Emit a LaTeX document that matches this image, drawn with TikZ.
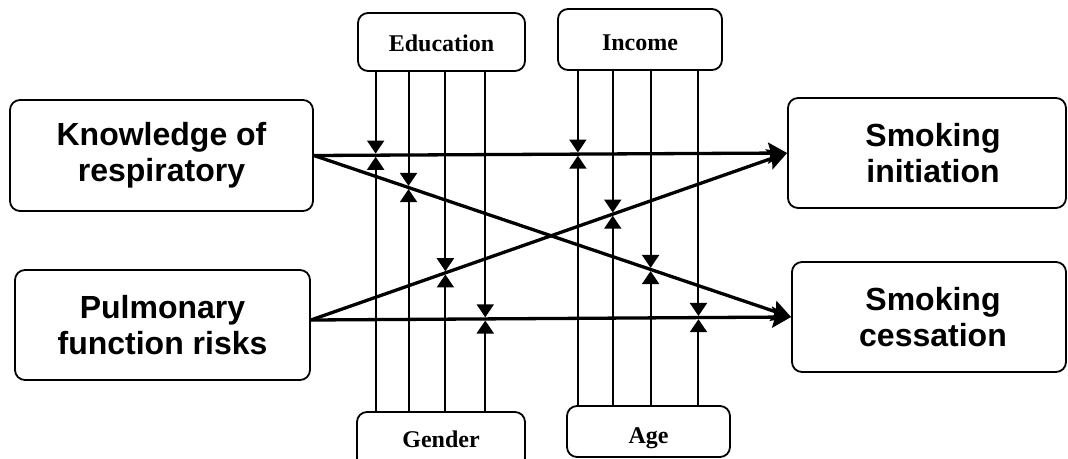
\documentclass[tikz,border=0pt]{standalone}
\usepackage{fontspec}
\setmainfont{Liberation Serif}
\newfontfamily\arialfont{Liberation Sans}
\usetikzlibrary{arrows.meta,calc}
\begin{document}
\begin{tikzpicture}[x=1pt,y=-1pt,
  box/.style={draw, line width=1.8pt, rounded corners=10pt, inner sep=0pt, align=center},
  bigbox/.style={box, font=\arialfont\bfseries\fontsize{32}{36}\selectfont},
  smallbox/.style={box, font=\bfseries\fontsize{24}{28}\selectfont, text depth=0pt},
  mainarrow/.style={line width=3.3pt, -{Stealth[inset=3pt,length=19pt,width=21pt]}},
  modline/.style={line width=2pt, -{Triangle[length=13pt,width=17pt]}, shorten >=1.6pt}]
\useasboundingbox (0,0) rectangle (1068,458);

% main boxes
\node[bigbox, minimum width=303pt, minimum height=111pt] (K) at (161.5,155.5) {Knowledge of\\respiratory};
\node[bigbox, minimum width=295pt, minimum height=110pt] (P) at (162.5,325) {Pulmonary\\function risks};
\node[bigbox, minimum width=278pt, minimum height=110pt] (I) at (927,153) {\hspace*{12pt}Smoking\\\hspace*{12pt}initiation};
\node[bigbox, minimum width=274pt, minimum height=110pt] (C) at (929,317) {\hspace*{8pt}Smoking\\\hspace*{8pt}cessation};

% moderator boxes
\node[smallbox, minimum width=167pt, minimum height=58pt, text height=19pt] (Edu) at (441.5,42) {Education};
\node[smallbox, minimum width=164pt, minimum height=61pt, text height=22pt] (Inc) at (640,39.5) {Income};
\node[smallbox, minimum width=168pt, minimum height=56pt, text height=15pt] (Gen) at (441,440) {Gender};
\node[smallbox, minimum width=163pt, minimum height=51pt, text height=23pt] (Age) at (648.5,431.5) {Age};

% arrow end points
\coordinate (kout) at (K.east);
\coordinate (pout) at ([yshift=5pt]P.east);
\coordinate (iin) at (I.west);
\coordinate (cin) at (C.west);

% main arrows
\draw[mainarrow] (kout) -- (iin);
\draw[mainarrow] (kout) -- (cin);
\draw[mainarrow] (pout) -- (iin);
\draw[mainarrow] (pout) -- (cin);

% moderation points
\coordinate (a1) at ($(kout)!0.1305!(iin)$);
\coordinate (a2) at ($(kout)!0.1983!(cin)$);
\coordinate (a3) at ($(pout)!0.2824!(iin)$);
\coordinate (a4) at ($(pout)!0.3631!(cin)$);
\coordinate (b1) at ($(kout)!0.5579!(iin)$);
\coordinate (b2) at ($(pout)!0.6339!(iin)$);
\coordinate (b3) at ($(kout)!0.7056!(cin)$);
\coordinate (b4) at ($(pout)!0.8071!(cin)$);

% moderator lines
\foreach \p in {a1,a2,a3,a4} {
  \draw[modline] (\p |- Edu.south) -- (\p);
  \draw[modline] (\p |- Gen.north) -- (\p);
}
\foreach \p in {b1,b2,b3,b4} {
  \draw[modline] (\p |- Inc.south) -- (\p);
  \draw[modline] (\p |- Age.north) -- (\p);
}
\end{tikzpicture}
\end{document}
